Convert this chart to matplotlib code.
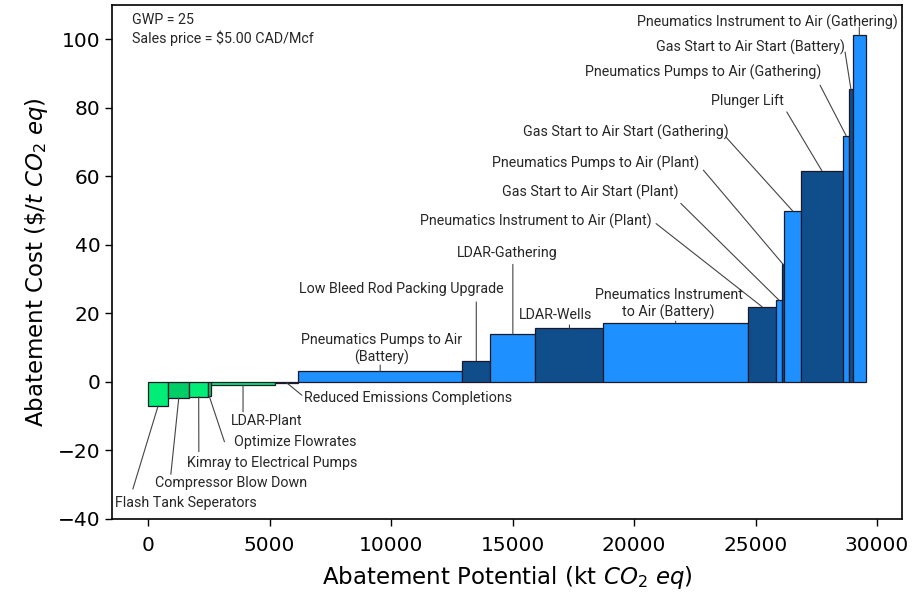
import matplotlib
matplotlib.use("Agg")
import matplotlib.pyplot as plt
import numpy as np

# ---- data ----
measures = [
    "Flash Tank Seperators",
    "Compressor Blow Down",
    "Kimray to Electrical Pumps",
    "Optimize Flowrates",
    "LDAR-Plant",
    "Reduced Emissions Completions",
    "Pneumatics Pumps to Air\n(Battery)",
    "Low Bleed Rod Packing Upgrade",
    "LDAR-Gathering",
    "LDAR-Wells",
    "Pneumatics Instrument\nto Air (Battery)",
    "Pneumatics Instrument to Air (Plant)",
    "Gas Start to Air Start (Plant)",
    "Pneumatics Pumps to Air (Plant)",
    "Gas Start to Air Start (Gathering)",
    "Plunger Lift",
    "Pneumatics Pumps to Air (Gathering)",
    "Gas Start to Air Start (Battery)",
    "Pneumatics Instrument to Air (Gathering)",
]
potential = [820, 880, 760, 110, 2670, 930, 6760, 1150, 1860, 2800, 5940,
             1180, 220, 110, 670, 1740, 250, 150, 540]
cost = [-7.0, -4.7, -4.3, -4.2, -1.0, -0.3, 3.1, 6.1, 13.9, 15.7, 17.3,
        21.9, 23.8, 34.3, 49.9, 61.6, 71.9, 85.4, 101.2]

# ---- layout (label centres and leader-line starts, data coords) ----
label_pos = [
    (1543, -35.3), (3395, -29.6), (5123, -23.8), (6049, -17.5), (4877, -11.4),
    (10712, -4.84), (9617, 9.6), (10424, 27.0), (14782, 37.6), (16760, 19.5),
    (21420, 22.7), (15947, 47.0), (18198, 55.2), (18403, 63.7), (19679, 72.7),
    (24671, 82.0), (22835, 90.5), (24774, 97.8), (25481, 105.0),
]
# None for x means vertical leader straight above/below the bar centre
line_start = [
    (-630, -31.3), (934, -27.0), (2086, -20.4), (3140, -17.5), (None, -8.75),
    (6325, -3.9), (None, 4.9), (None, 23.3), (None, 34.3), (None, 16.6),
    (None, 17.7), (20905, 46.2), (21922, 52.1), (22852, 61.8), (23774, 71.5),
    (26284, 78.8), (27654, 86.6), (28683, 96.3), (None, 103.6),
]

green_light, green_dark = "#00EE76", "#00CD66"
blue_light, blue_dark = "#1E90FF", "#104E8B"

colors = []
for i, c in enumerate(cost):
    if c < 0:
        colors.append(green_light if i % 2 == 0 else green_dark)
    else:
        colors.append(blue_light if i % 2 == 0 else blue_dark)

lefts = np.concatenate([[0], np.cumsum(potential)[:-1]])
centers = lefts + np.array(potential) / 2

fig = plt.figure(figsize=(9.15, 5.95), dpi=100)
ax = fig.add_axes([0.1227, 0.128, 0.8627, 0.8635])

ax.bar(lefts, cost, width=potential, align="edge", color=colors,
       edgecolor="#1a1a2a", linewidth=0.9)

ann_font = dict(family=["Roboto", "DejaVu Sans"], size=10.3, color="#262626")
for i, lab in enumerate(measures):
    tx, ty = label_pos[i]
    sx, sy = line_start[i]
    if sx is None:
        sx = centers[i]
    ax.text(tx, ty, lab, ha="center", va="center", linespacing=1.25, **ann_font)
    ax.annotate("", xy=(centers[i], cost[i]), xytext=(sx, sy),
                arrowprops=dict(arrowstyle="-", color="#444444", lw=0.8,
                                shrinkA=0, shrinkB=0))

ax.text(0.0246, 0.985, "GWP = 25\nSales price = $5.00 CAD/Mcf",
        transform=ax.transAxes, ha="left", va="top", linespacing=1.3,
        **ann_font)

ax.set_xlim(-1477, 31012)
ax.set_ylim(-40, 110)
ax.set_xticks([0, 5000, 10000, 15000, 20000, 25000, 30000])
ax.set_yticks([-40, -20, 0, 20, 40, 60, 80, 100])
ax.tick_params(labelsize=14.5, length=5, width=1)
ax.tick_params(axis="x", pad=7)
for s in ax.spines.values():
    s.set_linewidth(1.2)

ax.set_xlabel(r"Abatement Potential (kt $CO_2\ eq$)", fontsize=16.5, labelpad=7)
ax.set_ylabel(r"Abatement Cost (\$/$t\ CO_2\ eq$)", fontsize=16.5, labelpad=6)

fig.savefig("out.png", dpi=100)
